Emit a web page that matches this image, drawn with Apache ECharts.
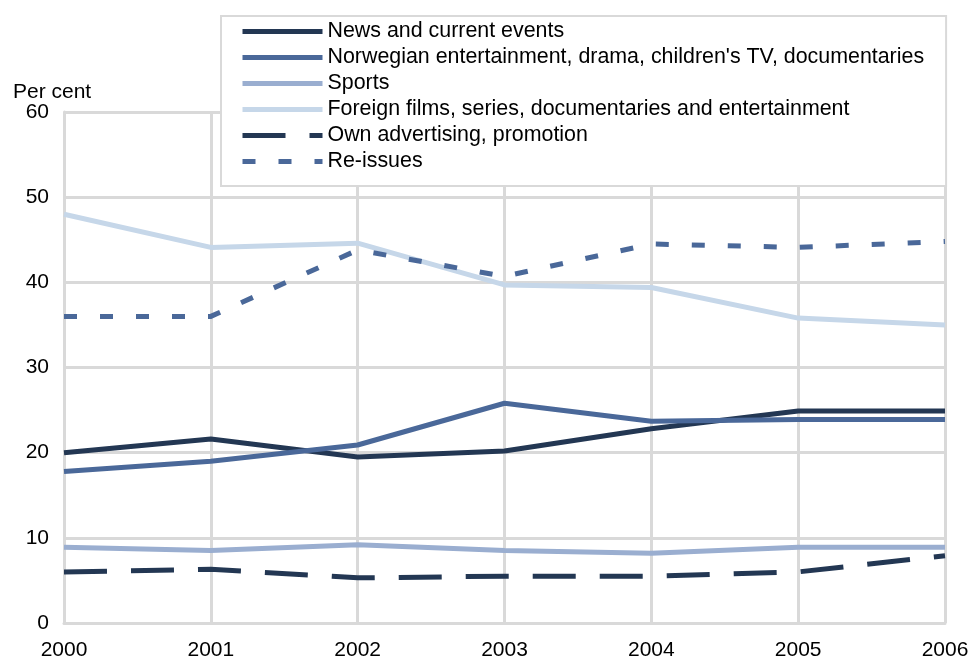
<!DOCTYPE html>
<html>
<head>
<meta charset="utf-8">
<script src="https://cdn.jsdelivr.net/npm/echarts@6/dist/echarts.min.js"></script>
<style>
  html, body { margin: 0; padding: 0; background: #fff; }
  #chart { width: 971px; height: 657px; }
</style>
</head>
<body>
<div id="chart"></div>
<script>
// Share of broadcasting time by programme category, per cent
const years = ['2000', '2001', '2002', '2003', '2004', '2005', '2006'];

const newsCurrent = [20.0, 21.6, 19.5, 20.2, 22.8, 24.9, 24.9];
const norwegianEntertainment = [17.8, 19.0, 20.9, 25.8, 23.7, 23.9, 23.9];
const sports = [8.9, 8.5, 9.2, 8.5, 8.2, 8.9, 8.9];
const foreignFilms = [48.0, 44.1, 44.6, 39.7, 39.4, 35.8, 35.0];
const ownAdvertising = [6.0, 6.3, 5.3, 5.5, 5.5, 6.0, 7.9];
const reIssues = [36.0, 36.0, 43.8, 40.7, 44.5, 44.1, 44.8];

const seriesNames = [
  'News and current events',
  "Norwegian entertainment, drama, children's TV, documentaries",
  'Sports',
  'Foreign films, series, documentaries and entertainment',
  'Own advertising, promotion',
  'Re-issues'
];

const FONT = '"Liberation Sans", Arial, sans-serif';
const FONT_SIZE = 21;
const GRID_GREY = '#d9d9d9';

function lineSeries(name, data, color, dash) {
  return {
    name: name,
    type: 'line',
    data: data,
    symbol: 'none',
    smooth: false,
    silent: true,
    lineStyle: {
      color: color,
      width: 5,
      type: dash || 'solid',
      cap: 'butt',
      join: 'round'
    },
    itemStyle: { color: color }
  };
}

const chart = echarts.init(document.getElementById('chart'), null, { renderer: 'canvas' });

chart.setOption({
  animation: false,
  backgroundColor: '#ffffff',
  textStyle: { fontFamily: FONT },
  title: {
    text: 'Per cent',
    left: 8,
    top: 77,
    textStyle: { fontFamily: FONT, fontSize: FONT_SIZE, fontWeight: 'normal', color: '#000' }
  },
  grid: {
    left: 64, right: 26, top: 112, bottom: 34,
    containLabel: false,
    outerBoundsMode: 'none'
  },
  legend: {
    orient: 'vertical',
    left: 221,
    top: 16,
    padding: [5, 22, 14, 19],
    itemWidth: 80,
    itemHeight: 14,
    itemGap: 5,
    backgroundColor: '#ffffff',
    borderColor: GRID_GREY,
    borderWidth: 2,
    selectedMode: false,
    data: seriesNames,
    // line-only keys: hide the point marker drawn over each key
    itemStyle: { opacity: 0 },
    lineStyle: { width: 5, cap: 'butt', opacity: 1 },
    textStyle: { fontFamily: FONT, fontSize: 21.4, color: '#000', lineHeight: 21 }
  },
  xAxis: {
    type: 'category',
    data: years,
    boundaryGap: false,
    axisLine: { show: true, lineStyle: { color: GRID_GREY, width: 3 } },
    axisTick: { show: false },
    axisLabel: { color: '#000', fontSize: FONT_SIZE, fontFamily: FONT, margin: 17, showMaxLabel: true, showMinLabel: true },
    splitLine: { show: true, lineStyle: { color: GRID_GREY, width: 3 } }
  },
  yAxis: {
    type: 'value',
    min: 0,
    max: 60,
    interval: 10,
    axisLine: { show: true, lineStyle: { color: GRID_GREY, width: 3 } },
    axisTick: { show: false },
    axisLabel: { color: '#000', fontSize: FONT_SIZE, fontFamily: FONT, margin: 15 },
    splitLine: { show: true, lineStyle: { color: GRID_GREY, width: 3 } }
  },
  series: [
    lineSeries(seriesNames[0], newsCurrent, '#233753'),
    lineSeries(seriesNames[1], norwegianEntertainment, '#4a6899'),
    lineSeries(seriesNames[2], sports, '#9aaed0'),
    lineSeries(seriesNames[3], foreignFilms, '#c6d7e9'),
    lineSeries(seriesNames[4], ownAdvertising, '#233753', [43, 24]),
    lineSeries(seriesNames[5], reIssues, '#4a6899', [13, 23])
  ]
});
</script>
</body>
</html>
